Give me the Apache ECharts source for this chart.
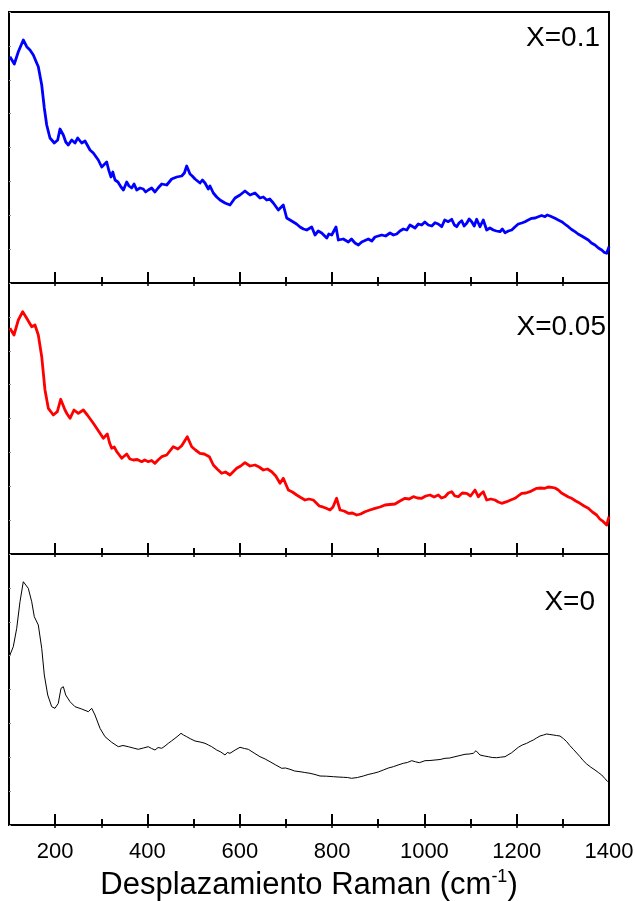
<!DOCTYPE html>
<html>
<head>
<meta charset="utf-8">
<script src="https://cdn.jsdelivr.net/npm/echarts@6/dist/echarts.min.js"></script>
<style>
  html, body { margin: 0; padding: 0; background: #fff; }
  #chart { width: 635px; height: 901px; }
</style>
</head>
<body>
<div id="chart"></div>
<script>
// Raman spectra (intensity in arbitrary units) for three compositions.
const shiftX01 = [102, 111.5, 120.2, 131, 138.4, 145.5, 152.7, 160, 163.5, 170.9, 176.5, 181.7, 188.8, 198.2, 205.5, 210.5, 217.7, 223, 228.5, 235.8, 243, 248.9, 257.5, 264.7, 275.5, 282.7, 293.5, 300.9, 311.7, 316, 321, 325, 329.7, 336, 342.7, 348, 355, 360, 365.8, 371, 376.7, 384, 391, 396, 401.8, 409, 416.3, 423, 430.9, 441.7, 452.5, 463.4, 474.2, 480, 485, 492.2, 497, 503, 513.8, 519, 524.7, 531.8, 535.5, 542.7, 550, 557.2, 568, 578.8, 589.7, 600.5, 611.3, 622.2, 633, 643.8, 651, 658.4, 665, 672.7, 683.5, 694.3, 701.7, 716, 723, 730.5, 738, 745, 755.9, 763, 770, 777.5, 788.4, 793, 799.2, 808.5, 813.5, 824.3, 835.2, 842, 849.7, 857, 864.2, 878.5, 886, 893, 907.5, 916, 925.5, 933, 940, 947, 954.3, 962, 968.8, 979.7, 986.8, 994.2, 1001, 1008.5, 1016, 1023, 1030, 1037.5, 1044, 1051.8, 1059.2, 1065, 1070, 1075, 1080.9, 1086, 1091.7, 1097, 1102.5, 1108, 1113.3, 1120.5, 1127.6, 1135, 1142, 1149.3, 1156, 1163.8, 1169, 1174.7, 1182, 1189.2, 1196, 1203.5, 1211, 1218, 1225, 1232.5, 1240, 1246.8, 1254, 1261.3, 1266, 1272.2, 1283, 1290, 1297.5, 1304, 1311.8, 1319, 1326.3, 1333, 1340.8, 1348, 1355.2, 1362, 1369.7, 1377, 1384.2, 1390, 1395, 1400];
const intensX01 = [226.3, 219, 231.3, 243, 236.3, 233, 228, 220, 216.3, 198, 175, 158, 145, 140, 143, 154, 148, 141, 138, 143, 140, 145, 140, 142, 133, 130, 123, 116, 121, 113, 106, 111, 103, 101, 96, 93, 101, 97, 95, 99, 93, 95, 94, 91, 93, 95, 91, 95, 99, 98, 104, 106, 107, 110, 117, 109, 107, 104, 100, 103, 100, 94, 97, 90, 86, 83, 80, 78, 85, 88, 92, 88, 90, 85, 86, 83, 84, 80, 73, 78, 65, 61, 59, 56, 54, 53, 56, 48, 52, 50, 45, 49, 48, 56, 43, 44, 41, 44, 40, 38, 41, 44, 42, 46, 48, 47, 50, 48, 49, 52, 54, 53, 58, 55, 59, 58, 61, 58, 57, 60.3, 59, 56.3, 63, 61.3, 63.7, 58, 56.3, 60, 62.3, 57, 59.7, 64, 61.3, 57, 63.7, 56.3, 63, 53, 55, 53, 52, 51.3, 54, 50.3, 52, 53, 56, 59, 60, 61.3, 63, 64.7, 65, 66.3, 67.5, 66.3, 68, 67, 64.7, 63, 61.3, 59, 56.3, 53.5, 51.3, 49, 47, 45, 43, 40, 38, 35, 33, 30.5, 29.7, 36.3];

const shiftX005 = [102, 110.8, 120.2, 129.7, 138.4, 149.2, 156.3, 163.5, 170.9, 178, 185.2, 196, 204.7, 212, 221.3, 226, 232.2, 240.8, 250.2, 261, 269.7, 282.7, 297.2, 304.3, 313, 318, 322.5, 328, 333.4, 339, 344.2, 350, 355, 362, 369.3, 378, 387.5, 394, 401.8, 409, 416.3, 423, 430.9, 441.7, 456, 466, 474.2, 486.3, 495.9, 504, 513.8, 523, 534, 542.7, 551, 560.8, 569, 578.8, 593.3, 602, 611.3, 622, 633, 642, 651, 660, 669.2, 678, 687.2, 694.3, 705.2, 714, 723.3, 732, 741.3, 750, 759.3, 772.3, 777.5, 786, 795.5, 802, 809.8, 817.2, 826, 835.2, 844, 853.4, 862, 871.3, 882, 893, 904, 914.7, 925, 936.3, 947, 958, 967, 976, 985, 994.2, 1003, 1012.2, 1021, 1030.2, 1037, 1044.7, 1052, 1059.2, 1066, 1073.5, 1082, 1091.7, 1100, 1109.7, 1116.8, 1122, 1127.6, 1135, 1144, 1153, 1160, 1167.5, 1178.4, 1187, 1196.3, 1203, 1210.9, 1220, 1228.8, 1236, 1243.4, 1252, 1261.3, 1268, 1275.9, 1283, 1290.2, 1297, 1304.7, 1312, 1319.2, 1328, 1337.2, 1346, 1355.2, 1364, 1373.3, 1380, 1387.7, 1395, 1400];
const intensX005 = [225.7, 219, 234, 242.3, 235.7, 227.3, 229, 219, 197.3, 164, 145.7, 139, 142.3, 154.7, 144, 140, 135.7, 144, 140.7, 144, 139, 130.7, 120.7, 115.7, 120, 111, 105.7, 107, 102.3, 99, 95.7, 98, 100, 95, 94, 94.5, 92.3, 94, 92.3, 93.5, 90.7, 94, 97.3, 99, 107.3, 105, 108.3, 117.3, 107.3, 104, 100.7, 100, 97.3, 89, 85, 80.7, 82, 79, 85.7, 88, 91.3, 88, 89, 87, 84, 85, 82.3, 78, 70.7, 75.7, 64, 62, 59, 56.5, 54, 55, 54, 48, 47.3, 46, 44, 47, 55.7, 44, 43, 40.7, 41, 39, 40, 42.3, 44, 45.7, 47, 49, 49.5, 50, 53, 55.7, 55, 57.3, 56, 55.7, 58, 59, 57, 59, 56, 57.3, 61, 62.3, 58, 57.3, 61, 60.7, 58, 64, 57.3, 60, 62.3, 54, 55, 54, 52, 50.7, 52.3, 54, 55.7, 58, 60.7, 61, 62.3, 64, 65.7, 66, 65.7, 67, 66.7, 66, 64, 61, 59, 57, 55.7, 53, 50.7, 48, 45.7, 42, 39, 35, 32.3, 29, 37.3];

const shiftX0 = [102, 109.3, 116.7, 123.8, 131, 134.7, 141.8, 149.2, 154.8, 163.5, 170.9, 176.5, 183.9, 192.5, 199.7, 206.8, 212.7, 217.7, 222.9, 232.2, 243, 257.5, 271.8, 279.2, 286.3, 297.2, 308, 322.5, 336.8, 347, 358.5, 369, 380.2, 391, 401.8, 409, 416.3, 423, 430.9, 438, 445.2, 452, 459.7, 466, 472.7, 478, 485, 494, 503, 514, 524.7, 532, 539.2, 550, 559, 568, 573, 578.8, 590, 600.5, 610, 618.5, 631, 643.8, 655, 665.5, 678, 690.9, 699, 708.8, 719, 730.5, 741, 752.2, 763, 773.8, 788, 802.7, 813, 824.3, 833, 842.5, 855, 867.7, 878, 889.3, 900, 911, 922, 932.7, 943, 954.3, 963, 972.5, 981, 989, 1001.3, 1012, 1023, 1034, 1044.7, 1055, 1066.3, 1077, 1088, 1097, 1106, 1111.8, 1120.5, 1130, 1138.5, 1147, 1156.7, 1165, 1174.7, 1189.2, 1203.5, 1212, 1221.7, 1229, 1236, 1243, 1250.5, 1258, 1265, 1272, 1279.3, 1286, 1293.8, 1301, 1308.4, 1315, 1322.7, 1330, 1337.2, 1344, 1351.7, 1360, 1369.7, 1377, 1384.2, 1391, 1397.2];
const intensX0 = [170, 178.3, 196.7, 223.3, 243.3, 245, 236.7, 223.3, 208.3, 200, 176.7, 150, 130, 118.3, 116.7, 121.7, 136.7, 138.3, 130, 123.3, 118.3, 116, 113.3, 116.7, 110, 96.7, 88.3, 82.7, 78.3, 79.5, 78.3, 77, 75.7, 77, 78.3, 76.5, 75, 77.5, 76.7, 79, 81.7, 84, 86.7, 89, 91.7, 90, 88.3, 86, 84, 83, 81.7, 80, 78.3, 75, 73, 70, 72.5, 71.7, 75, 77.7, 76.5, 75.7, 72, 68.3, 66, 63.3, 60, 56.7, 57, 55.7, 54, 53.3, 52.5, 51.7, 50.5, 49, 48.8, 48.3, 48, 47.7, 47.5, 46.7, 47.5, 49, 50.5, 51.7, 53, 55, 57, 58.3, 60, 61.7, 62.5, 64.3, 63.2, 62.3, 64.3, 64.5, 65, 65.5, 66.7, 67, 68.3, 69.5, 70.7, 71, 71.7, 74.3, 70, 69, 68.3, 67.5, 67.3, 67.8, 68.3, 72.3, 77.7, 80, 81.7, 83.5, 85, 87, 89, 90, 91, 90.5, 90, 89.5, 89, 86.5, 83.3, 79.5, 75.7, 72, 68.3, 64.5, 61, 58, 55, 52.5, 50, 46.5, 43.3];

const panelLabels = ['X=0.1', 'X=0.05', 'X=0'];
const majorTicks = [200, 400, 600, 800, 1000, 1200, 1400];
const minorTicks = [300, 500, 700, 900, 1100, 1300];
const topTicks = [200, 300, 400, 500, 600, 700, 800, 900, 1000, 1100, 1200, 1300];

const FONT = 'Liberation Sans, Arial, Helvetica, sans-serif';
const PANEL_TOP = 12, PANEL_H = 271, PLOT_LEFT = 9, PLOT_W = 600, Y_MAX = 271;

const pairs = (xs, ys) => xs.map((x, i) => [x, ys[i]]);
const spectra = [
  { data: pairs(shiftX01, intensX01), color: '#0000ff', width: 2.8 },
  { data: pairs(shiftX005, intensX005), color: '#ff0000', width: 2.8 },
  { data: pairs(shiftX0, intensX0), color: '#000000', width: 1 }
];

const grids = [], xAxes = [], yAxes = [], series = [];
// main grids 0..2, overlay grids 3..5 carry the minor bottom ticks
for (let k = 0; k < 2; k++) {
  for (let i = 0; i < 3; i++) {
    grids.push({
      left: PLOT_LEFT, width: PLOT_W, top: PANEL_TOP + PANEL_H * i, height: PANEL_H,
      containLabel: false, outerBoundsMode: 'none',
      show: k === 0, borderColor: '#000', borderWidth: 2, backgroundColor: 'transparent'
    });
  }
}
// bottom axes with major ticks (0..2)
for (let i = 0; i < 3; i++) {
  xAxes.push({
    gridIndex: i, type: 'value', min: 100, max: 1400, interval: 100, position: 'bottom',
    axisLine: { show: true, onZero: false, lineStyle: { color: '#000', width: 2 } },
    axisTick: { show: true, inside: true, length: 11, customValues: majorTicks, lineStyle: { color: '#000', width: 2 } },
    axisLabel: {
      show: i === 2, customValues: majorTicks, fontSize: 22, color: '#000', fontFamily: FONT, margin: 16,
      formatter: v => String(v)
    },
    splitLine: { show: false },
    name: i === 2 ? '{m|Desplazamiento Raman (cm}{s|-1}{m|)}' : '',
    nameLocation: 'middle', nameGap: 43,
    nameTextStyle: {
      rich: {
        m: { fontSize: 31, fontFamily: FONT, color: '#000', lineHeight: 34 },
        s: { fontSize: 18, fontFamily: FONT, color: '#000', verticalAlign: 'top', lineHeight: 34 }
      }
    }
  });
}
// top axes with short ticks (3..5)
for (let i = 0; i < 3; i++) {
  xAxes.push({
    gridIndex: i, type: 'value', min: 100, max: 1400, interval: 100, position: 'top',
    axisLine: { show: false },
    axisTick: { show: true, inside: true, length: 3, customValues: topTicks, lineStyle: { color: '#000', width: 1.5 } },
    axisLabel: { show: false }, splitLine: { show: false }
  });
}
// overlay axes with minor bottom ticks (6..8)
for (let i = 0; i < 3; i++) {
  xAxes.push({
    gridIndex: i + 3, type: 'value', min: 100, max: 1400, interval: 100, position: 'bottom',
    axisLine: { show: false },
    axisTick: { show: true, inside: true, length: 6, customValues: minorTicks, lineStyle: { color: '#000', width: 2 } },
    axisLabel: { show: false }, splitLine: { show: false }
  });
}
for (let i = 0; i < 3; i++) {
  yAxes.push({
    gridIndex: i, type: 'value', min: 0, max: Y_MAX, interval: Y_MAX / 8,
    axisLine: { show: false },
    axisTick: { show: true, inside: true, length: 2, lineStyle: { color: '#999', width: 1 } },
    axisLabel: { show: false }, splitLine: { show: false }
  });
}
for (let i = 0; i < 3; i++) {
  yAxes.push({ gridIndex: i + 3, type: 'value', min: 0, max: Y_MAX, show: false });
}
spectra.forEach((s, i) => {
  series.push({
    type: 'line', xAxisIndex: i, yAxisIndex: i, data: s.data,
    showSymbol: false, symbol: 'none', smooth: false,
    lineStyle: { color: s.color, width: s.width, join: 'round' },
    itemStyle: { color: s.color }, z: 1
  });
});

const labelPos = [
  { right: 35, top: 24 },
  { right: 29, top: 313 },
  { right: 40, top: 588 }
];
const graphic = panelLabels.map((t, i) => ({
  type: 'text', right: labelPos[i].right, top: labelPos[i].top,
  style: { text: t, font: '28px ' + FONT, fill: '#000' }
}));

const chart = echarts.init(document.getElementById('chart'), null, { renderer: 'canvas' });
chart.setOption({
  animation: false,
  backgroundColor: '#fff',
  grid: grids, xAxis: xAxes, yAxis: yAxes, series: series, graphic: graphic
});
</script>
</body>
</html>
